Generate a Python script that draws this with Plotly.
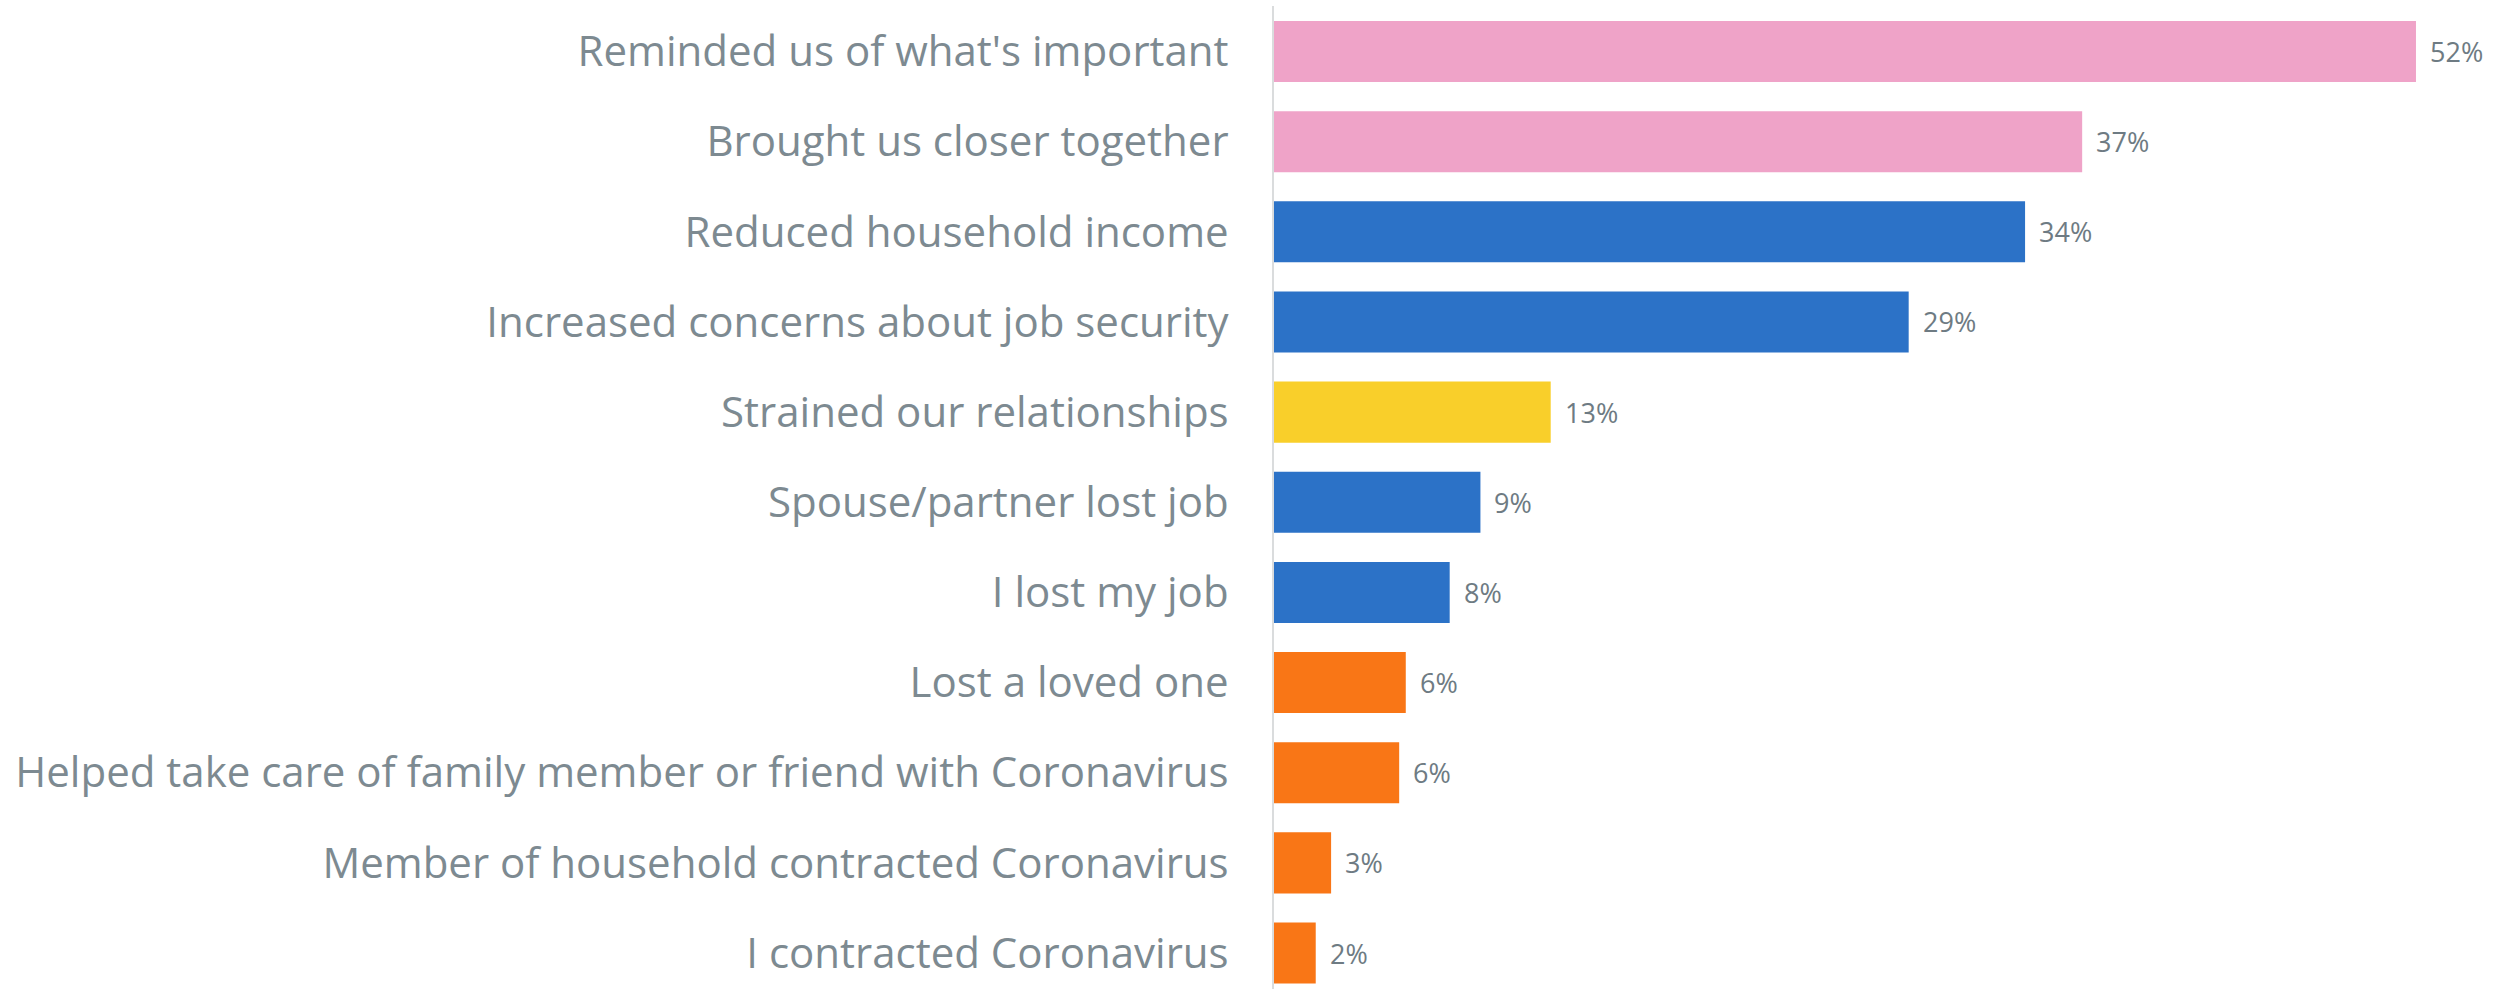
import plotly.graph_objects as go

# Survey responses: effects of the pandemic on households
categories = [
    "Reminded us of what's important",
    "Brought us closer together",
    "Reduced household income",
    "Increased concerns about job security",
    "Strained our relationships",
    "Spouse/partner lost job",
    "I lost my job",
    "Lost a loved one",
    "Helped take care of family member or friend with Coronavirus",
    "Member of household contracted Coronavirus",
    "I contracted Coronavirus",
]
shares = [52.0, 36.8, 34.2, 28.9, 12.6, 9.4, 8.0, 6.0, 5.7, 2.6, 1.9]
groups = [
    "positive", "positive",
    "financial", "financial",
    "relationship",
    "financial", "financial",
    "health", "health", "health", "health",
]

group_colors = {
    "positive": "#EFA3C8",
    "financial": "#2C72C7",
    "relationship": "#F9CF2A",
    "health": "#F97616",
}

fig = go.Figure(
    go.Bar(
        x=shares,
        y=categories,
        orientation="h",
        marker=dict(color=[group_colors[g] for g in groups], line=dict(width=0)),
        width=0.677,
        hoverinfo="skip",
    )
)

# value labels to the right of each bar
for cat, v in zip(categories, shares):
    fig.add_annotation(
        x=v, y=cat, text=f"{v:.0f}%",
        xanchor="left", yanchor="middle",
        xshift=12, showarrow=False,
        font=dict(family="Open Sans", size=27, color="#6E7B83"),
    )

fig.update_layout(
    width=2517,
    height=989,
    margin=dict(l=1274, r=0, t=6, b=0),
    paper_bgcolor="white",
    plot_bgcolor="white",
    showlegend=False,
    xaxis=dict(
        range=[0, 56.6],
        visible=False,
        showgrid=False,
        zeroline=False,
    ),
    yaxis=dict(
        type="category",
        categoryorder="array",
        categoryarray=categories,
        range=[10.399, -0.505],
        showline=True,
        linecolor="#DADCDD",
        linewidth=2,
        showgrid=False,
        ticks="",
        ticklabelstandoff=35,
        tickfont=dict(family="Open Sans", size=42, color="#7D8A91"),
    ),
)

fig.write_html("out.html")
